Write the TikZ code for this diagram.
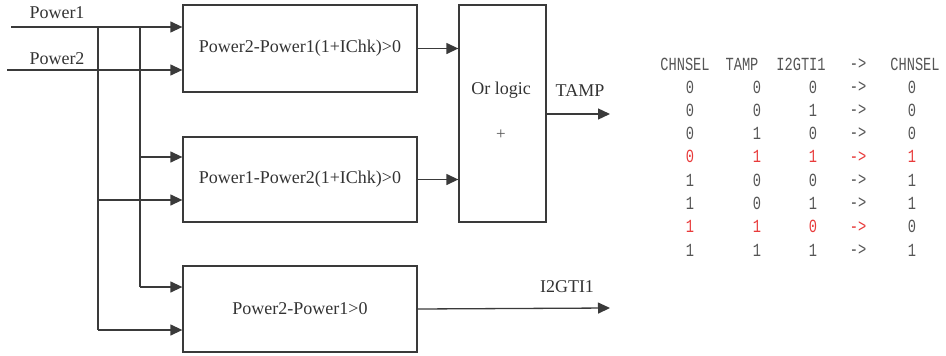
\documentclass[tikz,border=0pt]{standalone}
\usepackage{fontspec}
\setmainfont{Liberation Serif}
\newfontfamily\tabfont[FakeStretch=0.74]{Liberation Mono}
\usetikzlibrary{arrows.meta}
\definecolor{ln}{HTML}{3A3A3A}
\definecolor{tx}{HTML}{333333}
\definecolor{tg}{HTML}{555555}
\definecolor{tr}{HTML}{E83A3A}
\tikzset{
  blk/.style={draw=ln, line width=1.3pt, minimum width=234pt, inner sep=0pt, font=\fontsize{18}{20}\selectfont, text=tx},
  arr/.style={draw=ln, line width=1.3pt, -{Triangle[length=12pt,width=11pt]}},
  wire/.style={draw=ln, line width=1.3pt},
  lbl/.style={font=\fontsize{18}{20}\selectfont, text=tx, inner sep=0pt},
  cell/.style={font=\tabfont\fontsize{18.5}{20}\selectfont, text=tg, inner sep=0pt},
  rcell/.style={cell, text=tr}
}
\begin{document}
\begin{tikzpicture}[x=1pt,y=-1pt]
\useasboundingbox (0,0) rectangle (946,356);
% blocks
\node[blk, minimum height=87pt] (b1) at (300,48.5) {Power2-Power1(1+IChk)>0};
\node[blk, minimum height=85pt] (b2) at (300,179.5) {Power1-Power2(1+IChk)>0};
\node[blk, minimum height=86pt] (b3) at (300,309) {Power2-Power1>0};
\node[draw=ln, line width=1.3pt, minimum width=87pt, minimum height=217pt, inner sep=0pt] (orb) at (502.5,113.5) {};
\node[lbl] (orl) at (501,90) {Or logic};
\node[lbl, font=\fontsize{17}{18}\selectfont, text=tg] (orp) at (501,135) {+};
% labels
\node[lbl] (l1) at (57,13) {Power1};
\node[lbl] (l2) at (57,59) {Power2};
\node[lbl] (lt) at (580,91) {TAMP};
\node[lbl] (li) at (567,287) {I2GTI1};
% coordinates
\coordinate (p1) at (11,27);
\coordinate (p2) at (7,70);
\coordinate (ja) at (98,27);
\coordinate (jb) at (140,27);
\coordinate (ja2) at (98,200);
\coordinate (ja3) at (98,330);
\coordinate (jb2) at (140,157);
\coordinate (jb3) at (140,287);
\coordinate (ot) at (610,114);
\coordinate (oi) at (610,308);
% inputs
\draw[arr] (p1) -- (p1 -| b1.west);
\draw[arr] (p2) -- (p2 -| b1.west);
\draw[wire] (ja) -- (ja3);
\draw[wire] (jb) -- (jb3);
\draw[arr] (jb2) -- (jb2 -| b2.west);
\draw[arr] (ja2) -- (ja2 -| b2.west);
\draw[arr] (jb3) -- (jb3 -| b3.west);
\draw[arr] (ja3) -- (ja3 -| b3.west);
% outputs
\draw[arr] (b1.east) -- (b1.east -| orb.west);
\draw[arr] (b2.east) -- (b2.east -| orb.west);
\draw[arr] (ot -| orb.east) -- (ot);
\draw[arr] (b3.east) -- (oi);
% table
\node[cell] (h1) at (685,64) {CHNSEL};
\node[cell] (h2) at (742,64) {TAMP};
\node[cell] (h3) at (801,64) {I2GTI1};
\node[cell] (h4) at (858,64) {->};
\node[cell] (h5) at (915,64) {CHNSEL};
\foreach \a/\b/\c/\d/\r/\s [count=\i] in {
  0/0/0/0/cell/cell,
  0/0/1/0/cell/cell,
  0/1/0/0/cell/cell,
  0/1/1/1/rcell/rcell,
  1/0/0/1/cell/cell,
  1/0/1/1/cell/cell,
  1/1/0/0/rcell/cell,
  1/1/1/1/cell/cell}{
  \pgfmathsetmacro{\yy}{87+(\i-1)*23.3}
  \node[\r] (c1r\i) at (690,\yy) {\a};
  \node[\r] (c2r\i) at (757,\yy) {\b};
  \node[\r] (c3r\i) at (813,\yy) {\c};
  \node[\r] (c4r\i) at (858,\yy) {->};
  \node[\s] (c5r\i) at (912,\yy) {\d};
}
\end{tikzpicture}
\end{document}
